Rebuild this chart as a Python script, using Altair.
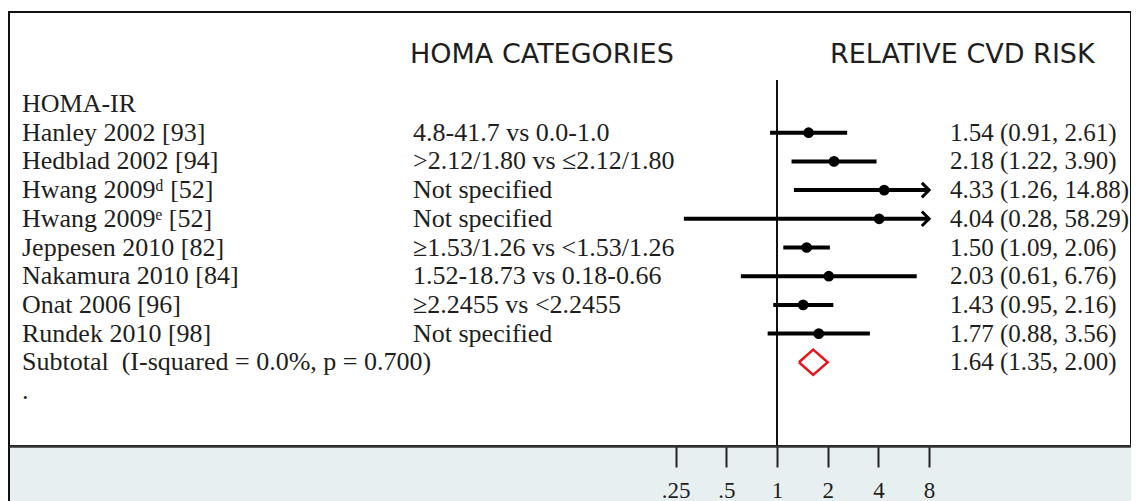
import math
import altair as alt
import pandas as pd

# ---------------- data ----------------
studies = ["Hanley 2002 [93]", "Hedblad 2002 [94]", "Hwang 2009\u1d48 [52]",
           "Hwang 2009\u1d49 [52]", "Jeppesen 2010 [82]", "Nakamura 2010 [84]",
           "Onat 2006 [96]", "Rundek 2010 [98]"]
homa_categories = ["4.8-41.7 vs 0.0-1.0", ">2.12/1.80 vs \u22642.12/1.80",
                   "Not specified", "Not specified",
                   "\u22651.53/1.26 vs <1.53/1.26", "1.52-18.73 vs 0.18-0.66",
                   "\u22652.2455 vs <2.2455", "Not specified"]
rr = [1.54, 2.18, 4.33, 4.04, 1.50, 2.03, 1.43, 1.77]
ci_low = [0.91, 1.22, 1.26, 0.28, 1.09, 0.61, 0.95, 0.88]
ci_high = [2.61, 3.90, 14.88, 58.29, 2.06, 6.76, 2.16, 3.56]
subtotal_label = "Subtotal\u00a0 (I-squared = 0.0%, p = 0.700)"
subtotal_rr = 1.64
subtotal_low = 1.35
subtotal_high = 2.00
group_label = "HOMA-IR"
tick_values = [0.25, 0.5, 1, 2, 4, 8]
tick_labels = [".25", ".5", "1", "2", "4", "8"]
header_left = "HOMA CATEGORIES"
header_right = "RELATIVE CVD RISK"

# ---------------- layout ----------------
W, H = 1122, 434          # plot (view) size
PANEL = 55                # light panel below axis
X_MAX_SHOWN = 8           # CI lines are cut here, with an arrow
px_per_doubling = 50.7
px_one = 768
x_domain = [2 ** (-px_one / px_per_doubling), 2 ** ((W - px_one) / px_per_doubling)]
row_px = 28.7
row0_px = 92
y_domain = [-row0_px / row_px, (H - row0_px) / row_px]

xscale = alt.Scale(type="log", base=2, domain=x_domain, nice=False, zero=False)
yscale = alt.Scale(domain=y_domain, reverse=True, nice=False, zero=False)

SERIF = "Liberation Serif"
TXT = "#1e1e1e"
FS = 26

n = len(studies)
rows = list(range(1, n + 1))
df = pd.DataFrame({
    "study": studies,
    "cat": homa_categories,
    "rr": rr,
    "lo": ci_low,
    "hi": ci_high,
    "row": rows,
})
df["hi_shown"] = [min(h, X_MAX_SHOWN) for h in ci_high]
df["est"] = [f"{a:.2f} ({b:.2f}, {c:.2f})" for a, b, c in zip(rr, ci_low, ci_high)]

sub_row = n + 1
left_df = pd.DataFrame({
    "label": [group_label] + studies + [subtotal_label, "."],
    "row": [0] + rows + [sub_row, sub_row + 1],
})
right_df = pd.DataFrame({
    "label": list(df["est"]) + [f"{subtotal_rr:.2f} ({subtotal_low:.2f}, {subtotal_high:.2f})"],
    "row": rows + [sub_row],
})
arrow_df = df[df["hi"] > X_MAX_SHOWN].copy()

diamond_df = pd.DataFrame({
    "x": [subtotal_low, subtotal_rr, subtotal_high, subtotal_rr, subtotal_low],
    "row": [sub_row, sub_row - 0.44, sub_row, sub_row + 0.44, sub_row],
    "o": [0, 1, 2, 3, 4],
})

null_df = pd.DataFrame({"x": [1], "row": [-0.836], "row2": [y_domain[1]]})
header_df = pd.DataFrame({"label": [header_left, header_right],
                          "px": [401, 821], "row": [-1.43, -1.43]})

Y = alt.Y("row:Q", scale=yscale, axis=None)

panel = alt.Chart(alt.Data(values=[{}])).mark_rect(color="#e8eff1").encode(
    x=alt.value(0), x2=alt.value(W), y=alt.value(H), y2=alt.value(H + PANEL))
panel_edge = alt.Chart(alt.Data(values=[{}])).mark_rule(color="#111", strokeWidth=2).encode(
    x=alt.value(0), y=alt.value(H), y2=alt.value(H + PANEL))

null_line = alt.Chart(null_df).mark_rule(color="#111", strokeWidth=2).encode(
    x=alt.X("x:Q", scale=xscale,
            axis=alt.Axis(values=tick_values, title=None, grid=False,
                          labelExpr="datum.value == 0.25 ? '.25' : datum.value == 0.5 ? '.5' : format(datum.value, 'd')",
                          labelFont=SERIF, labelFontSize=23, labelColor=TXT,
                          labelPadding=12, tickSize=21, tickWidth=2, tickColor="#222",
                          domainColor="#333", domainWidth=2.5, labelFlush=False,
                          labelOverlap=False, zindex=1)),
    y=Y, y2="row2:Q")

ci = alt.Chart(df).mark_rule(color="#000", strokeWidth=4).encode(
    x=alt.X("lo:Q", scale=xscale), x2="hi_shown:Q", y=Y)
pts = alt.Chart(df).mark_point(filled=True, color="#000", size=115, opacity=1).encode(
    x=alt.X("rr:Q", scale=xscale), y=Y)
arrows = alt.Chart(arrow_df).mark_point(
    shape="M-1,-1L0,0L-1,1", filled=False, color="#000", strokeWidth=3,
    size=210, opacity=1).encode(
    x=alt.X("hi_shown:Q", scale=xscale), y=Y)
diamond = alt.Chart(diamond_df).mark_line(color="#e8141c", strokeWidth=2.5, strokeJoin="miter").encode(
    x=alt.X("x:Q", scale=xscale), y=Y, order="o:Q")

left_txt = alt.Chart(left_df).mark_text(align="left", baseline="middle", font=SERIF,
                                        fontSize=FS, color=TXT).encode(
    x=alt.value(13), y=Y, text="label:N")
mid_txt = alt.Chart(df).mark_text(align="left", baseline="middle", font=SERIF,
                                  fontSize=FS, color=TXT).encode(
    x=alt.value(404), y=Y, text="cat:N")
right_txt = alt.Chart(right_df).mark_text(align="left", baseline="middle", font=SERIF,
                                          fontSize=25, color=TXT).encode(
    x=alt.value(941), y=Y, text="label:N")
headers = alt.Chart(header_df).mark_text(align="left", baseline="alphabetic",
                                         font="DejaVu Sans", fontSize=27, color=TXT).encode(
    x=alt.X("px:Q", scale=None), y=Y, text="label:N")

chart = alt.layer(panel, panel_edge, null_line, ci, pts, arrows, diamond,
                  left_txt, mid_txt, right_txt, headers).properties(
    width=W, height=H,
    padding={"left": 1, "top": 4, "right": 0, "bottom": PANEL},
    autosize=alt.AutoSizeParams(type="none"),
    background="white",
).configure_view(stroke="#111", strokeWidth=2, fill="white")

chart.save("out.html", embed_options={"renderer": "svg", "actions": False})
